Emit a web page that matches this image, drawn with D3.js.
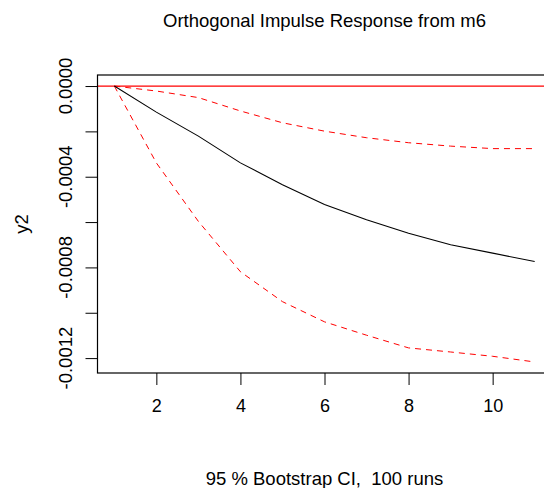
<!DOCTYPE html>
<html>
<head>
<meta charset="utf-8">
<script src="https://cdnjs.cloudflare.com/ajax/libs/d3/7.8.5/d3.min.js"></script>
<style>
  body { margin: 0; background: #fff; }
  svg { display: block; font-family: "Liberation Sans", Arial, sans-serif; }
</style>
</head>
<body>
<svg id="chart" width="544" height="488"></svg>
<script>
// horizon steps
var steps = [1, 2, 3, 4, 5, 6, 7, 8, 9, 10, 11];
// impulse response of y2
var irf = [0, -0.000115, -0.000221, -0.000339, -0.000435, -0.000523, -0.000590, -0.000649, -0.000700, -0.000737, -0.000774];
// bootstrap bands
var upper = [0, -0.000022, -0.000051, -0.000110, -0.000162, -0.000199, -0.000228, -0.000250, -0.000265, -0.000276, -0.000276];
var lower = [0, -0.000339, -0.000597, -0.000819, -0.000951, -0.001040, -0.001099, -0.001155, -0.001173, -0.001192, -0.001217];

var xTicks = [2, 4, 6, 8, 10];
var yTicks = [0, -0.0002, -0.0004, -0.0006, -0.0008, -0.0010, -0.0012];
var yLabels = [0, -0.0004, -0.0008, -0.0012];

var svg = d3.select("#chart");
// plot box (right edge falls outside the picture, as in the original)
var box = {left: 97.5, right: 551.5, top: 75, bottom: 373};

// R style 4% padding on each axis
function pad(ext){ var d = (ext[1] - ext[0]) * 0.04; return [ext[0] - d, ext[1] + d]; }
var allY = irf.concat(upper, lower);
var x = d3.scaleLinear().domain(pad(d3.extent(steps))).range([box.left, box.right]);
var y = d3.scaleLinear().domain(pad(d3.extent(allY))).range([box.bottom, box.top]);

// axes
var xAxis = svg.append("g")
    .attr("transform", "translate(0," + box.bottom + ")")
    .call(d3.axisBottom(x).tickValues(xTicks).tickSize(12).tickPadding(14).tickFormat(d3.format("d")));
xAxis.select(".domain").remove();
xAxis.selectAll("text").attr("font-size", 18).attr("fill", "#000").attr("font-family", "Liberation Sans, Arial, sans-serif");

var yAxis = svg.append("g")
    .attr("transform", "translate(" + box.left + ",0)")
    .call(d3.axisLeft(y).tickValues(yTicks).tickSize(12).tickFormat(""));
yAxis.select(".domain").remove();

svg.append("g").selectAll("text")
    .data(yLabels)
    .enter().append("text")
    .attr("transform", function(d){ return "translate(72," + y(d) + ") rotate(-90)"; })
    .attr("text-anchor", "middle")
    .attr("font-size", 18.5)
    .text(function(d){ return d3.format(".4f")(d).replace("−", "-"); });

// zero line
svg.append("line")
    .attr("x1", box.left).attr("x2", box.right)
    .attr("y1", y(0)).attr("y2", y(0))
    .attr("stroke", "#ff0000").attr("stroke-width", 1.2);

var line = d3.line()
    .x(function(d, i){ return x(steps[i]); })
    .y(function(d){ return y(d); });

svg.append("path").datum(upper)
    .attr("d", line).attr("fill", "none")
    .attr("stroke", "#ff0000").attr("stroke-width", 1).attr("stroke-dasharray", "6,5");
svg.append("path").datum(lower)
    .attr("d", line).attr("fill", "none")
    .attr("stroke", "#ff0000").attr("stroke-width", 1).attr("stroke-dasharray", "6,5");
svg.append("path").datum(irf)
    .attr("d", line).attr("fill", "none")
    .attr("stroke", "#000").attr("stroke-width", 1.1);

// box
svg.append("rect")
    .attr("x", box.left).attr("y", box.top)
    .attr("width", box.right - box.left).attr("height", box.bottom - box.top)
    .attr("fill", "none").attr("stroke", "#000").attr("stroke-width", 1.2);

// titles
svg.append("text")
    .attr("x", (box.left + box.right) / 2).attr("y", 27)
    .attr("text-anchor", "middle").attr("font-size", 18.5)
    .text("Orthogonal Impulse Response from m6");

svg.append("text")
    .attr("x", (box.left + box.right) / 2).attr("y", 485)
    .attr("text-anchor", "middle").attr("font-size", 18.5)
    .style("white-space", "pre")
    .text("95 % Bootstrap CI,  100 runs");

svg.append("text")
    .attr("transform", "translate(28," + (box.top + box.bottom) / 2 + ") rotate(-90)")
    .attr("text-anchor", "middle").attr("font-size", 18.5)
    .text("y2");
</script>
</body>
</html>
